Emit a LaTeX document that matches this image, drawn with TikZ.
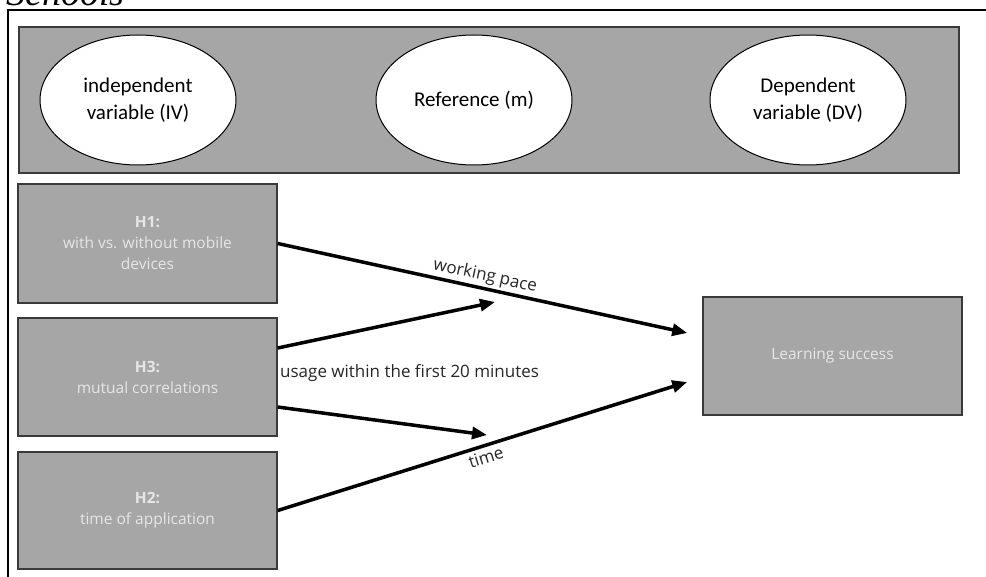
\documentclass[tikz,border=0pt]{standalone}
\usepackage{fontspec}
\setmainfont{Open Sans}
\newfontfamily\ellfont{Carlito}
\newfontfamily\capfont{Liberation Serif}
\usetikzlibrary{arrows.meta}
\usetikzlibrary{shapes.geometric}
\definecolor{boxgray}{HTML}{A6A6A6}
\definecolor{edgegray}{HTML}{3A3A3A}
\definecolor{boxtext}{HTML}{E6E6E6}
\tikzset{
    hypbox/.style={draw=edgegray, line width=1.5pt, fill=boxgray, text=boxtext,
        minimum width=259pt, align=center, font=\fontsize{15.5}{21}\selectfont},
    varell/.style={ellipse, draw=black, line width=1pt, fill=white,
        minimum width=196pt, minimum height=130pt, inner sep=0pt, align=center,
        font=\ellfont\fontsize{21}{27}\selectfont},
    pathline/.style={line width=3.5pt, -{Triangle[length=15pt,width=12pt]}},
    pathlabel/.style={font=\fontsize{17}{20}\selectfont, text=black!85}
}

\begin{document}
\begin{tikzpicture}[x=1pt, y=-1pt]
            \useasboundingbox (0, 0) rectangle (986, 577);
            \node[anchor=base west, inner sep=0pt, font=\capfont\itshape\fontsize{38}{38}\selectfont] (cap) at (6, 6) {Schools};
            \draw[black, line width=1.5pt] (8, 600) -- (8, 10) -- (1000, 10);
            % variable legend
            \draw[edgegray, line width=1.5pt, fill=boxgray] (19, 27) rectangle (959, 173);
            \node[varell] (iv)  at (138, 100) {independent\\variable (IV)};
            \node[varell] (ref) at (474, 100) {Reference (m)};
            \node[varell] (dv)  at (808, 100) {Dependent\\variable (DV)};
            % hypotheses
            \node[hypbox, minimum height=119pt] (h1) at (147.5, 243.5) {\textbf{H1:}\\with vs. without mobile\\devices};
            \node[hypbox, minimum height=118pt] (h3) at (147.5, 377) {\textbf{H3:}\\mutual correlations};
            \node[hypbox, minimum height=117pt] (h2) at (147.5, 510.5) {\textbf{H2:}\\time of application};
            \node[hypbox, minimum height=118pt] (ls) at (832.5, 356) {Learning success};
            \coordinate (wp) at (495, 302);
            \coordinate (ut) at (487, 435);
            \draw[pathline] (h1.east) -- node[pathlabel, sloped, above, inner sep=2pt, pos=0.5] {working pace} ([xshift=-15pt, yshift=23pt]ls.west);
            \draw[pathline] (h2.east) -- node[pathlabel, sloped, below, pos=0.5] {time} ([xshift=-15pt, yshift=-26pt]ls.west);
            \draw[pathline] ([yshift=29pt]h3.east) -- (wp);
            \draw[pathline] ([yshift=-30pt]h3.east) -- (ut);
            \node[pathlabel, anchor=west, inner sep=1pt] (use) at (279, 373) {usage within the first 20 minutes};
        \end{tikzpicture}
\end{document}
